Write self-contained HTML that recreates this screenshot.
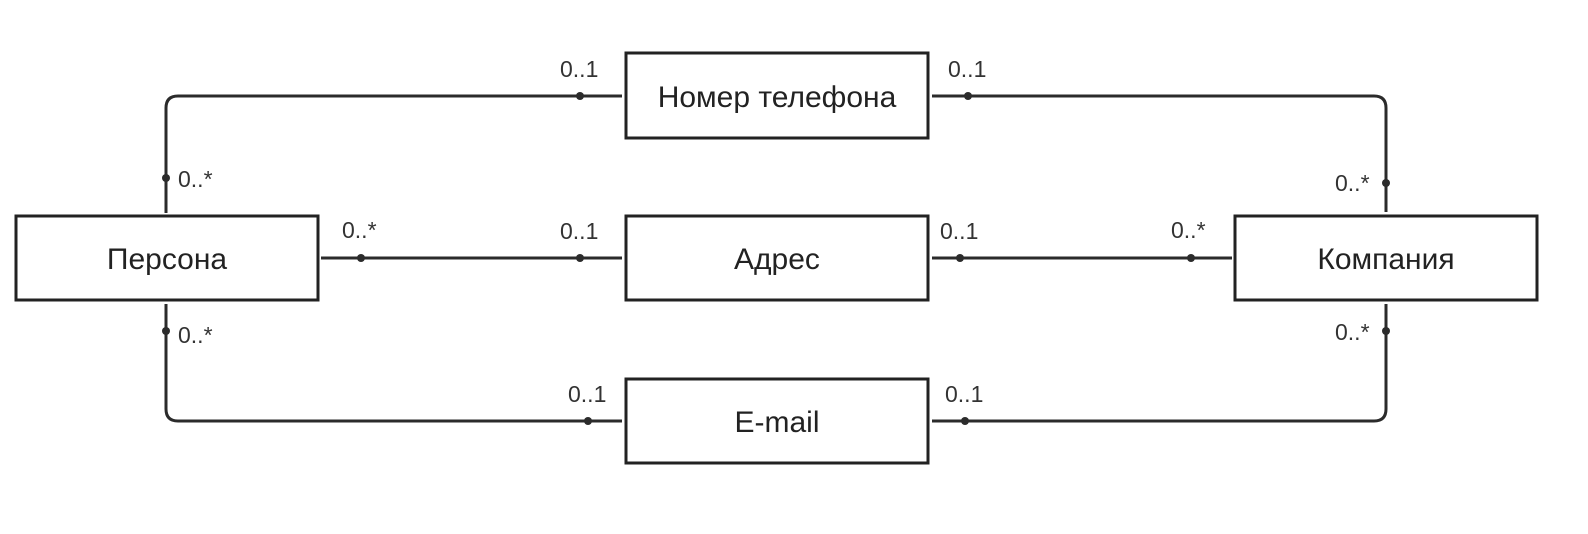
<!DOCTYPE html>
<html><head><meta charset="utf-8"><style>
html,body{margin:0;padding:0;background:#fff;}
</style></head><body>
<svg width="1588" height="529" viewBox="0 0 1588 529" xmlns="http://www.w3.org/2000/svg" font-family="'Liberation Sans','DejaVu Sans',sans-serif">
<g fill="none" stroke="#2b2b2b" stroke-width="3">
<path d="M166 213 V108 Q166 96 178 96 H622"/>
<path d="M932 96 H1374 Q1386 96 1386 108 V212"/>
<path d="M321 258 H622"/>
<path d="M932 258 H1232"/>
<path d="M166 304 V409 Q166 421 178 421 H622"/>
<path d="M932 421 H1374 Q1386 421 1386 409 V304"/>
</g>
<g fill="#2b2b2b">
<circle cx="580" cy="96" r="4"/><circle cx="166" cy="178" r="4"/>
<circle cx="968" cy="96" r="4"/><circle cx="1386" cy="183" r="4"/>
<circle cx="361" cy="258" r="4"/><circle cx="580" cy="258" r="4"/>
<circle cx="960" cy="258" r="4"/><circle cx="1191" cy="258" r="4"/>
<circle cx="166" cy="331" r="4"/><circle cx="588" cy="421" r="4"/>
<circle cx="965" cy="421" r="4"/><circle cx="1386" cy="331" r="4"/>
</g>
<g fill="#fff" stroke="#222" stroke-width="3">
<rect x="626" y="53" width="302" height="85"/>
<rect x="626" y="216" width="302" height="84"/>
<rect x="626" y="379" width="302" height="84"/>
<rect x="16" y="216" width="302" height="84"/>
<rect x="1235" y="216" width="302" height="84"/>
</g>
<g font-size="30" fill="#222" text-anchor="middle">
<text x="777" y="107">Номер телефона</text>
<text x="777" y="269">Адрес</text>
<text x="777" y="432">E-mail</text>
<text x="167" y="269">Персона</text>
<text x="1386" y="269">Компания</text>
</g>
<g font-size="23" fill="#333">
<text x="560" y="77">0..1</text>
<text x="948" y="77">0..1</text>
<text x="178" y="187">0..*</text>
<text x="1335" y="191">0..*</text>
<text x="342" y="238">0..*</text>
<text x="560" y="239">0..1</text>
<text x="940" y="239">0..1</text>
<text x="1171" y="238">0..*</text>
<text x="178" y="343">0..*</text>
<text x="1335" y="340">0..*</text>
<text x="568" y="402">0..1</text>
<text x="945" y="402">0..1</text>
</g>
</svg>
</body></html>
